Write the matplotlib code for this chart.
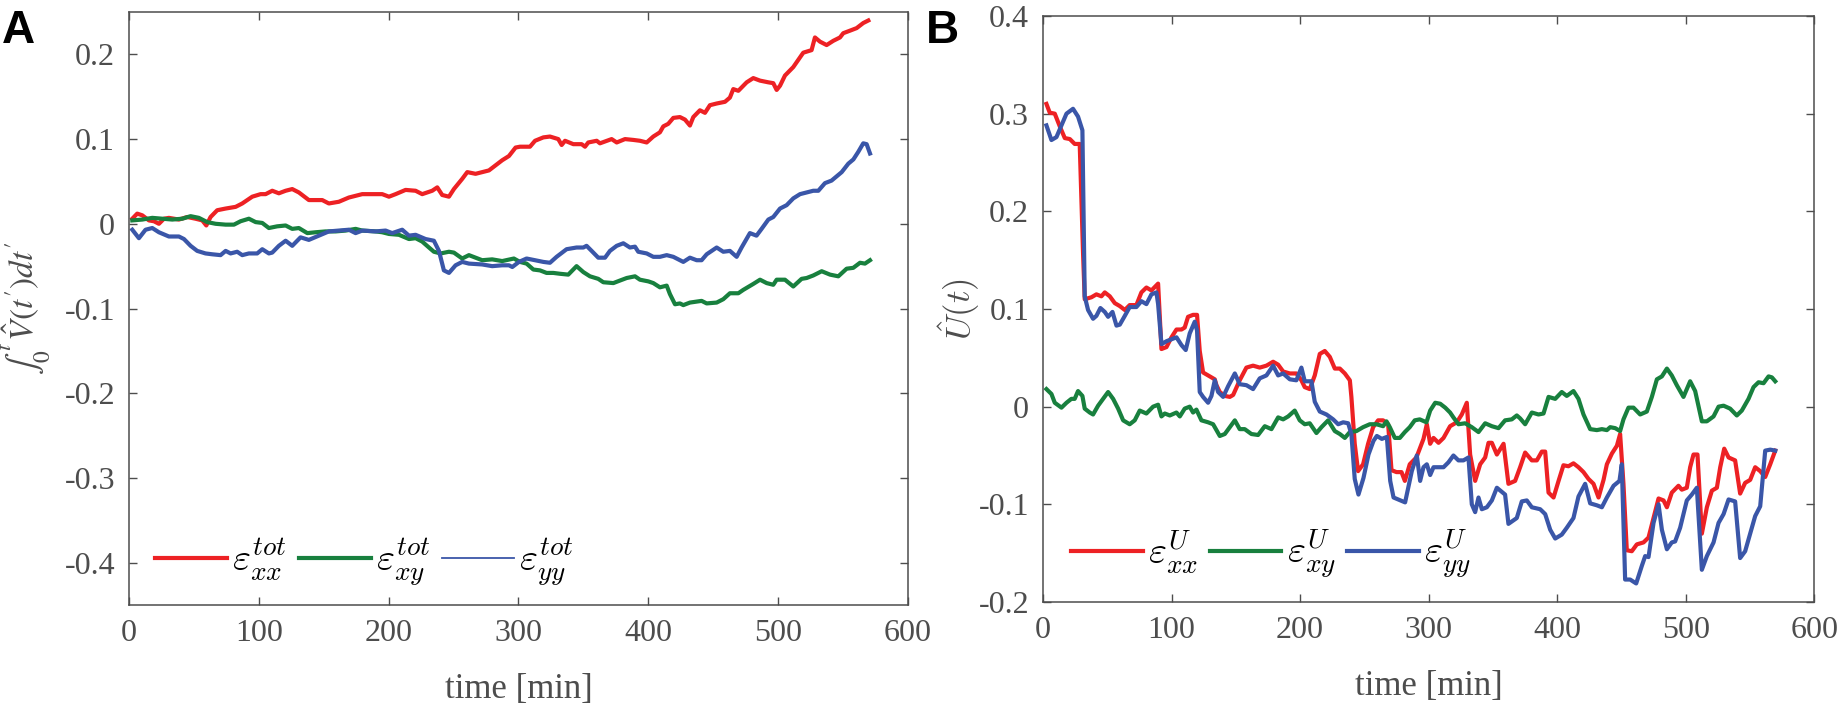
import numpy as np
import matplotlib
matplotlib.use("Agg")
import matplotlib.pyplot as plt
from matplotlib.ticker import FuncFormatter

plt.rcParams['font.family'] = ['Liberation Serif', 'DejaVu Serif']
plt.rcParams['mathtext.fontset'] = 'cm'
plt.rcParams['axes.unicode_minus'] = False

# colores de las series
C_XX = '#ED2124'
C_XY = '#18803E'
C_YY = '#3A56A8'
GRIS = '#4D4D4D'

# ---- Panel A: integral acumulada  (tiempo [min], valor)
a_exx = np.array([
    [2.6, 0.006], [6.4, 0.012], [10.3, 0.010], [15.4, 0.004], [19.3, 0.003], [23.1, 0.000],
    [27.0, 0.006], [30.8, 0.007], [38.5, 0.005], [44.9, 0.008], [51.3, 0.006], [56.5, 0.004],
    [59.6, -0.002], [62.9, 0.008], [68.0, 0.016], [74.5, 0.018], [82.2, 0.020], [87.3, 0.024],
    [95.0, 0.032], [101.4, 0.035], [105.3, 0.035], [110.4, 0.039], [115.5, 0.036], [120.7, 0.039],
    [125.8, 0.041], [130.9, 0.037], [138.6, 0.028], [148.9, 0.028], [154.0, 0.024], [161.7, 0.026],
    [169.4, 0.031], [179.7, 0.035], [190.0, 0.035], [195.1, 0.035], [200.3, 0.032], [205.4, 0.035],
    [213.1, 0.040], [220.8, 0.039], [225.9, 0.035], [233.6, 0.039], [237.5, 0.043], [241.3, 0.034],
    [246.5, 0.032], [250.3, 0.041], [256.7, 0.053], [260.6, 0.061], [267.0, 0.059], [277.3, 0.063],
    [287.5, 0.075], [292.7, 0.080], [297.8, 0.090], [301.2, 0.091], [308.9, 0.091], [312.8, 0.098],
    [319.2, 0.102], [324.3, 0.103], [330.7, 0.100], [333.3, 0.093], [335.9, 0.098], [342.3, 0.094],
    [348.7, 0.094], [351.3, 0.091], [353.8, 0.096], [360.3, 0.098], [362.8, 0.095], [371.8, 0.100],
    [375.7, 0.096], [382.1, 0.100], [388.5, 0.099], [393.6, 0.098], [398.8, 0.096], [403.9, 0.103],
    [409.0, 0.108], [411.6, 0.115], [415.4, 0.118], [419.3, 0.125], [424.4, 0.126], [428.3, 0.123],
    [432.1, 0.116], [434.7, 0.126], [439.8, 0.134], [443.7, 0.131], [447.5, 0.140], [452.7, 0.142],
    [459.1, 0.144], [462.9, 0.149], [465.5, 0.159], [469.4, 0.157], [475.8, 0.167], [480.9, 0.172],
    [486.1, 0.169], [492.5, 0.167], [496.3, 0.166], [498.9, 0.158], [501.5, 0.163], [505.3, 0.175],
    [511.7, 0.185], [519.4, 0.202], [525.8, 0.205], [528.4, 0.220], [532.3, 0.215], [537.4, 0.211],
    [542.5, 0.216], [547.7, 0.220], [550.2, 0.225], [555.4, 0.228], [560.5, 0.231], [565.6, 0.237],
    [569.5, 0.240],
])

a_exy = np.array([
    [2.6, 0.004], [10.3, 0.005], [18.0, 0.007], [25.7, 0.006], [33.4, 0.005], [41.1, 0.006],
    [47.5, 0.009], [53.9, 0.007], [60.3, 0.002], [66.8, 0.000], [74.5, -0.001], [80.9, -0.001],
    [86.0, 0.003], [92.4, 0.006], [97.6, 0.002], [102.7, 0.001], [107.8, -0.005], [114.2, -0.003],
    [120.7, -0.002], [125.8, -0.006], [130.9, -0.005], [137.4, -0.011], [143.8, -0.010], [151.5, -0.009],
    [159.2, -0.009], [166.9, -0.008], [174.6, -0.006], [179.7, -0.008], [190.0, -0.009], [195.1, -0.010],
    [200.3, -0.012], [208.0, -0.013], [215.7, -0.018], [220.8, -0.017], [225.9, -0.021], [231.1, -0.028],
    [234.9, -0.033], [240.1, -0.035], [246.5, -0.033], [250.3, -0.034], [256.7, -0.041], [261.9, -0.037],
    [267.0, -0.040], [272.1, -0.043], [279.8, -0.042], [287.5, -0.044], [296.5, -0.041], [301.2, -0.045],
    [306.3, -0.047], [311.5, -0.054], [316.6, -0.055], [321.7, -0.058], [326.9, -0.058], [332.0, -0.059],
    [338.4, -0.060], [344.8, -0.050], [350.0, -0.057], [355.1, -0.062], [361.5, -0.065], [365.4, -0.069],
    [373.1, -0.070], [378.2, -0.067], [383.4, -0.064], [389.8, -0.062], [393.6, -0.066], [400.1, -0.068],
    [403.9, -0.070], [409.0, -0.075], [414.2, -0.073], [416.7, -0.083], [420.6, -0.095], [424.4, -0.094],
    [427.0, -0.096], [432.1, -0.093], [441.1, -0.091], [445.0, -0.094], [452.7, -0.093], [457.8, -0.089],
    [462.9, -0.082], [469.4, -0.082], [473.2, -0.078], [480.9, -0.071], [486.1, -0.066], [491.2, -0.070],
    [496.3, -0.072], [498.9, -0.066], [505.3, -0.066], [511.7, -0.074], [518.1, -0.065], [522.0, -0.064],
    [527.1, -0.061], [533.6, -0.056], [540.0, -0.060], [546.4, -0.062], [552.8, -0.053], [557.9, -0.052],
    [563.1, -0.046], [566.9, -0.047], [570.8, -0.043],
])

a_eyy = np.array([
    [2.6, -0.007], [7.7, -0.017], [12.8, -0.007], [18.0, -0.005], [23.1, -0.010], [30.8, -0.015],
    [38.5, -0.015], [42.4, -0.018], [47.5, -0.026], [52.6, -0.032], [59.0, -0.035], [64.2, -0.036],
    [70.6, -0.037], [74.5, -0.032], [78.3, -0.035], [83.4, -0.033], [87.3, -0.037], [92.4, -0.035],
    [98.8, -0.035], [102.7, -0.030], [107.8, -0.035], [110.4, -0.034], [115.5, -0.026], [120.7, -0.020],
    [125.8, -0.026], [132.2, -0.016], [138.6, -0.019], [146.3, -0.014], [154.0, -0.009], [161.7, -0.008],
    [169.4, -0.007], [174.6, -0.011], [179.7, -0.008], [190.0, -0.009], [197.7, -0.008], [202.8, -0.011],
    [210.5, -0.007], [215.7, -0.014], [220.8, -0.013], [228.5, -0.018], [234.9, -0.020], [238.8, -0.032],
    [242.6, -0.055], [246.5, -0.058], [251.6, -0.049], [256.7, -0.045], [261.9, -0.047], [272.1, -0.048],
    [279.8, -0.050], [287.5, -0.049], [292.7, -0.049], [295.3, -0.051], [300.4, -0.045], [306.3, -0.041],
    [312.8, -0.043], [319.2, -0.045], [324.3, -0.046], [329.4, -0.039], [337.1, -0.030], [344.8, -0.028],
    [350.0, -0.028], [352.5, -0.026], [356.4, -0.032], [361.5, -0.040], [366.7, -0.040], [370.5, -0.032],
    [375.7, -0.026], [380.8, -0.023], [385.9, -0.028], [389.8, -0.027], [392.3, -0.033], [398.8, -0.035],
    [403.9, -0.039], [409.0, -0.039], [414.2, -0.037], [419.3, -0.039], [427.0, -0.045], [432.1, -0.040],
    [437.3, -0.043], [441.1, -0.043], [445.0, -0.036], [452.7, -0.028], [457.8, -0.033], [462.9, -0.032],
    [468.1, -0.039], [471.9, -0.028], [478.3, -0.011], [483.4, -0.014], [487.3, -0.006], [492.5, 0.005],
    [496.3, 0.008], [501.5, 0.018], [506.6, 0.022], [511.7, 0.030], [516.9, 0.035], [522.0, 0.037],
    [527.1, 0.039], [531.0, 0.039], [536.1, 0.048], [541.2, 0.051], [545.1, 0.056], [549.0, 0.061],
    [554.1, 0.071], [558.0, 0.076], [561.8, 0.085], [565.6, 0.095], [568.2, 0.094], [570.8, 0.083],
])

# ---- Panel B: U(t)
b_exx = np.array([
    [2.6, 0.310], [5.2, 0.301], [9.1, 0.300], [13.0, 0.287], [16.9, 0.275], [20.8, 0.274],
    [24.6, 0.269], [28.5, 0.269], [31.1, 0.157], [32.4, 0.110], [37.6, 0.112], [41.5, 0.115],
    [45.4, 0.113], [48.0, 0.117], [51.9, 0.113], [55.8, 0.106], [59.7, 0.103], [63.6, 0.099],
    [67.4, 0.104], [72.6, 0.104], [76.5, 0.117], [80.4, 0.122], [84.3, 0.119], [89.5, 0.126],
    [92.1, 0.059], [96.0, 0.061], [99.9, 0.071], [103.8, 0.079], [107.7, 0.079], [110.2, 0.081],
    [112.8, 0.092], [116.7, 0.094], [119.8, 0.094], [121.9, 0.057], [124.5, 0.035], [129.7, 0.031],
    [133.6, 0.028], [134.9, 0.022], [137.5, 0.015], [141.4, 0.011], [145.3, 0.010], [147.9, 0.012],
    [153.0, 0.027], [158.2, 0.040], [163.4, 0.042], [168.6, 0.040], [173.8, 0.042], [179.0, 0.046],
    [182.9, 0.043], [186.8, 0.036], [192.0, 0.034], [197.1, 0.034], [201.0, 0.027], [203.6, 0.020],
    [207.5, 0.018], [211.4, 0.032], [215.3, 0.054], [219.2, 0.057], [223.1, 0.051], [227.0, 0.039],
    [230.9, 0.039], [234.8, 0.034], [238.7, 0.027], [239.9, 0.010], [242.5, -0.038], [245.1, -0.066],
    [249.0, -0.059], [252.9, -0.038], [256.8, -0.021], [260.7, -0.014], [264.6, -0.014], [268.5, -0.018],
    [271.1, -0.065], [275.0, -0.067], [278.9, -0.067], [281.5, -0.076], [285.3, -0.059], [290.5, -0.052],
    [296.0, -0.033], [298.6, -0.018], [301.2, -0.038], [303.8, -0.032], [307.7, -0.037], [311.6, -0.032],
    [316.7, -0.020], [321.9, -0.016], [325.8, -0.008], [329.7, 0.004], [332.3, -0.049], [336.2, -0.076],
    [340.1, -0.059], [344.0, -0.052], [346.6, -0.037], [349.2, -0.037], [353.1, -0.049], [358.3, -0.038],
    [362.1, -0.079], [367.3, -0.076], [371.2, -0.062], [375.1, -0.047], [380.3, -0.055], [384.2, -0.055],
    [388.1, -0.046], [390.7, -0.046], [393.3, -0.088], [397.2, -0.093], [401.1, -0.076], [404.9, -0.060],
    [408.8, -0.061], [412.7, -0.058], [416.6, -0.062], [420.5, -0.067], [424.4, -0.074], [428.3, -0.079],
    [432.2, -0.093], [436.1, -0.075], [438.7, -0.059], [442.6, -0.048], [446.5, -0.040], [449.0, -0.028],
    [451.6, -0.079], [454.2, -0.147], [458.1, -0.148], [462.0, -0.141], [467.2, -0.139], [471.1, -0.134],
    [475.0, -0.114], [478.9, -0.094], [482.8, -0.096], [485.4, -0.103], [489.2, -0.088], [494.4, -0.081],
    [497.0, -0.085], [500.9, -0.083], [503.5, -0.062], [506.1, -0.049], [509.2, -0.049], [512.6, -0.130],
    [516.5, -0.103], [520.4, -0.086], [524.3, -0.083], [526.9, -0.062], [530.0, -0.043], [533.4, -0.052],
    [538.5, -0.055], [542.4, -0.089], [546.3, -0.078], [550.2, -0.075], [554.1, -0.062], [558.0, -0.066],
    [561.9, -0.072], [565.8, -0.059], [569.7, -0.045],
])

b_exy = np.array([
    [2.6, 0.018], [6.5, 0.013], [9.1, 0.004], [14.3, -0.001], [18.2, 0.004], [22.0, 0.008],
    [24.6, 0.008], [27.2, 0.016], [30.6, 0.011], [32.4, -0.002], [36.3, -0.006], [38.9, -0.008],
    [42.8, 0.001], [46.7, 0.008], [50.6, 0.015], [54.5, 0.008], [58.4, -0.002], [62.3, -0.014],
    [67.4, -0.018], [71.3, -0.014], [75.2, -0.004], [80.4, -0.007], [85.6, 0.000], [89.5, 0.002],
    [92.1, -0.010], [94.7, -0.007], [98.6, -0.009], [103.8, -0.006], [106.4, -0.010], [110.2, -0.002],
    [114.1, 0.000], [116.7, -0.006], [119.3, -0.003], [123.2, -0.014], [128.4, -0.016], [132.3, -0.018],
    [137.5, -0.030], [141.4, -0.028], [145.3, -0.021], [149.2, -0.014], [153.0, -0.023], [156.9, -0.023],
    [162.1, -0.028], [167.3, -0.029], [172.5, -0.020], [177.7, -0.023], [182.9, -0.011], [186.8, -0.013],
    [190.7, -0.010], [195.8, -0.004], [199.7, -0.014], [203.6, -0.018], [207.5, -0.017], [212.7, -0.027],
    [216.6, -0.021], [221.8, -0.014], [227.0, -0.025], [230.9, -0.028], [234.8, -0.032], [238.7, -0.026],
    [243.8, -0.025], [249.0, -0.021], [254.2, -0.018], [259.4, -0.018], [264.6, -0.020], [267.2, -0.015],
    [269.8, -0.021], [273.7, -0.032], [277.6, -0.032], [281.5, -0.026], [285.3, -0.021], [289.2, -0.014],
    [293.1, -0.013], [298.3, -0.016], [301.2, -0.004], [305.1, 0.004], [309.0, 0.003], [312.9, -0.001],
    [316.7, -0.006], [319.3, -0.011], [323.2, -0.018], [328.4, -0.017], [333.6, -0.021], [338.8, -0.026],
    [344.0, -0.017], [349.2, -0.020], [354.4, -0.022], [359.5, -0.014], [364.7, -0.013], [368.6, -0.009],
    [371.2, -0.012], [375.1, -0.018], [380.3, -0.006], [385.5, -0.008], [389.4, -0.007], [393.3, 0.010],
    [398.5, 0.008], [403.6, 0.015], [407.5, 0.011], [412.7, 0.016], [416.6, 0.008], [420.5, -0.008],
    [425.7, -0.023], [430.9, -0.024], [434.8, -0.023], [438.7, -0.024], [441.3, -0.021], [445.2, -0.022],
    [449.0, -0.025], [451.6, -0.013], [455.5, -0.001], [459.4, -0.001], [464.6, -0.008], [469.8, -0.005],
    [473.7, 0.010], [477.6, 0.028], [481.5, 0.031], [485.4, 0.039], [489.2, 0.032], [493.1, 0.022],
    [498.3, 0.010], [503.5, 0.026], [507.4, 0.016], [512.6, -0.015], [516.5, -0.015], [521.7, -0.010],
    [525.6, 0.000], [529.5, 0.001], [534.6, -0.002], [539.8, -0.009], [543.7, -0.004], [548.9, 0.008],
    [552.8, 0.020], [556.7, 0.025], [560.6, 0.024], [564.5, 0.031], [567.1, 0.030], [569.7, 0.026],
])

b_eyy = np.array([
    [2.6, 0.288], [6.5, 0.273], [10.4, 0.276], [14.3, 0.288], [18.2, 0.300], [23.3, 0.305],
    [27.2, 0.297], [30.6, 0.283], [31.6, 0.187], [32.4, 0.113], [35.0, 0.099], [38.9, 0.090],
    [41.5, 0.093], [44.6, 0.101], [48.0, 0.097], [50.6, 0.092], [54.0, 0.097], [57.1, 0.083],
    [59.7, 0.084], [63.6, 0.093], [67.4, 0.102], [72.6, 0.102], [76.5, 0.108], [80.4, 0.105],
    [84.3, 0.115], [88.2, 0.117], [89.5, 0.105], [92.1, 0.064], [96.0, 0.067], [99.9, 0.069],
    [103.8, 0.071], [107.7, 0.063], [111.0, 0.058], [114.1, 0.075], [118.0, 0.087], [119.8, 0.078],
    [121.9, 0.015], [124.5, 0.010], [128.4, 0.004], [131.0, 0.011], [133.6, 0.027], [136.2, 0.015],
    [140.1, 0.010], [144.0, 0.021], [149.2, 0.034], [153.0, 0.023], [158.2, 0.022], [163.4, 0.018],
    [168.6, 0.029], [173.8, 0.032], [179.0, 0.042], [182.9, 0.032], [186.8, 0.034], [192.0, 0.028],
    [197.1, 0.027], [201.0, 0.040], [203.6, 0.026], [208.8, 0.026], [211.4, 0.005], [215.3, -0.005],
    [220.5, -0.008], [225.7, -0.013], [229.6, -0.018], [233.5, -0.016], [237.4, -0.017], [239.9, -0.028],
    [242.5, -0.074], [245.4, -0.090], [249.3, -0.073], [253.2, -0.049], [257.1, -0.035], [259.7, -0.030],
    [263.6, -0.033], [267.5, -0.031], [270.1, -0.076], [272.7, -0.093], [281.7, -0.098], [286.9, -0.066],
    [290.8, -0.050], [293.4, -0.076], [296.0, -0.062], [298.6, -0.059], [301.2, -0.070], [303.8, -0.062],
    [307.7, -0.062], [311.6, -0.062], [315.4, -0.057], [319.3, -0.050], [323.2, -0.055], [327.1, -0.055],
    [331.0, -0.052], [333.6, -0.100], [336.2, -0.108], [338.8, -0.093], [341.4, -0.105], [345.3, -0.103],
    [349.2, -0.096], [353.1, -0.083], [359.5, -0.090], [362.1, -0.120], [368.6, -0.114], [372.5, -0.097],
    [376.4, -0.096], [380.3, -0.103], [386.8, -0.105], [390.7, -0.110], [394.6, -0.126], [398.5, -0.135],
    [403.6, -0.131], [407.5, -0.124], [412.7, -0.114], [416.6, -0.092], [421.8, -0.079], [425.7, -0.099],
    [430.9, -0.101], [434.8, -0.103], [438.7, -0.093], [443.9, -0.081], [448.5, -0.076], [450.3, -0.059],
    [452.9, -0.177], [456.8, -0.177], [461.5, -0.181], [465.9, -0.163], [468.5, -0.153], [471.1, -0.154],
    [475.0, -0.119], [478.9, -0.100], [481.5, -0.126], [485.4, -0.146], [489.2, -0.139], [491.8, -0.138],
    [495.7, -0.124], [500.9, -0.096], [504.8, -0.090], [508.7, -0.083], [512.6, -0.167], [516.5, -0.153],
    [521.7, -0.139], [525.6, -0.119], [529.5, -0.110], [533.4, -0.095], [538.5, -0.097], [542.4, -0.155],
    [546.3, -0.148], [550.2, -0.130], [554.1, -0.112], [558.0, -0.102], [561.9, -0.045], [565.8, -0.044],
    [569.7, -0.045],
])

x_ticks = [0, 100, 200, 300, 400, 500, 600]
a_yticks = [-0.4, -0.3, -0.2, -0.1, 0, 0.1, 0.2]
b_yticks = [-0.2, -0.1, 0, 0.1, 0.2, 0.3, 0.4]

a_labels = [r'$\varepsilon_{xx}^{tot}$', r'$\varepsilon_{xy}^{tot}$', r'$\varepsilon_{yy}^{tot}$']
b_labels = [r'$\varepsilon_{xx}^{U}$', r'$\varepsilon_{xy}^{U}$', r'$\varepsilon_{yy}^{U}$']

SERIF = 'Liberation Serif'


def estilo_ejes(ax, yticks):
    ax.set_xlim(0, 600)
    ax.set_xticks(x_ticks)
    ax.set_yticks(yticks)
    ax.yaxis.set_major_formatter(FuncFormatter(lambda v, p: f'{v:g}'))
    ax.tick_params(direction='in', length=6, width=1.0, top=True, right=True,
                   labelsize=23, colors=GRIS, pad=10, labelfontfamily=SERIF)
    for s in ax.spines.values():
        s.set_color(GRIS)
        s.set_linewidth(1.1)


def leyenda(ax, x0, y0):
    return ax.legend(loc='lower left', bbox_to_anchor=(x0, y0), ncol=3, frameon=False,
                     fontsize=28, borderpad=0, borderaxespad=0, handlelength=1.85,
                     handletextpad=0.13, columnspacing=0.3)


fig = plt.figure(figsize=(18.39, 7.11), dpi=100)
ax_a = fig.add_axes([0.0701, 0.1491, 0.4236, 0.834])
ax_b = fig.add_axes([0.5672, 0.1533, 0.4193, 0.8242])

lw = 3.0
for datos, col, lab in zip([a_exx, a_exy, a_eyy], [C_XX, C_XY, C_YY], a_labels):
    ax_a.plot(datos[:, 0], datos[:, 1], color=col, lw=lw, label=lab)
estilo_ejes(ax_a, a_yticks)
ax_a.set_ylim(-0.45, 0.25)
ax_a.set_xlabel('time [min]', fontsize=25, color=GRIS, family=SERIF)
ax_a.xaxis.set_label_coords(0.5, -0.115)
ax_a.set_ylabel(r"$\int_0^t\,\hat{V}(t')dt'$", fontsize=24, color=GRIS,
                math_fontfamily='stix')
ax_a.yaxis.set_label_coords(-0.0976, 0.5)
leg_a = leyenda(ax_a, 0.034, 0.028)
leg_a.get_lines()[2].set_linewidth(1.3)

for datos, col, lab in zip([b_exx, b_exy, b_eyy], [C_XX, C_XY, C_YY], b_labels):
    ax_b.plot(datos[:, 0], datos[:, 1], color=col, lw=lw, label=lab)
estilo_ejes(ax_b, b_yticks)
ax_b.set_ylim(-0.2, 0.4)
ax_b.set_xlabel('time [min]', fontsize=25, color=GRIS, family=SERIF)
ax_b.xaxis.set_label_coords(0.5, -0.116)
ax_b.set_ylabel(r'$\hat{U}(t)$', fontsize=25, color=GRIS)
ax_b.yaxis.set_label_coords(-0.079, 0.5)
leyenda(ax_b, 0.036, 0.035)

fig.text(0.001, 1 - 43 / 711, 'A', fontsize=33, fontweight='bold',
         family='Liberation Sans', va='baseline')
fig.text(926 / 1839, 1 - 43 / 711, 'B', fontsize=33, fontweight='bold',
         family='Liberation Sans', va='baseline')

fig.savefig('out.png', dpi=100)
plt.close(fig)
